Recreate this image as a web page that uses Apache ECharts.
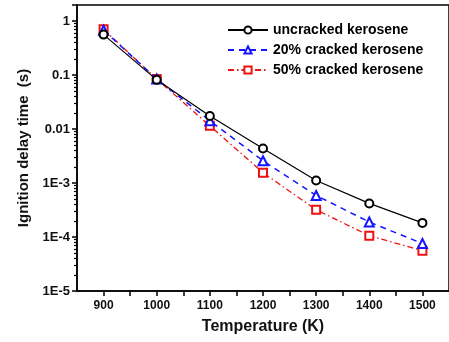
<!DOCTYPE html>
<html>
<head>
<meta charset="utf-8">
<script src="https://cdn.jsdelivr.net/npm/echarts@6/dist/echarts.min.js"></script>
<style>
  html, body { margin: 0; padding: 0; background: #fff; }
  #chart { width: 449px; height: 342px; }
</style>
</head>
<body>
<div id="chart"></div>
<script>
// data
var temps = [900, 1000, 1100, 1200, 1300, 1400, 1500];
var uncracked = [0.565, 0.082, 0.0175, 0.00437, 0.00112, 4.2e-4, 1.83e-4];
var cracked20 = [0.68, 0.085, 0.0143, 0.0026, 5.9e-4, 1.9e-4, 7.6e-5];
var cracked50 = [0.71, 0.085, 0.0115, 0.00156, 3.2e-4, 1.06e-4, 5.6e-5];

var xTicks = [900, 950, 1000, 1050, 1100, 1150, 1200, 1250, 1300, 1350, 1400, 1450, 1500];
var xTickLabels = [900, 1000, 1100, 1200, 1300, 1400, 1500];
var yTickLabels = ['1E-5', '1E-4', '1E-3', '0.01', '0.1', '1'];

function pair(vals) {
  return temps.map(function (t, i) { return [t, vals[i]]; });
}

var font = 'Liberation Sans, Arial, sans-serif';

var chart = echarts.init(document.getElementById('chart'));
chart.setOption({
  animation: false,
  backgroundColor: '#fff',
  grid: { left: 77, right: -3, top: 5, bottom: 51, show: true, borderColor: '#000', borderWidth: 1.5 },
  legend: {
    orient: 'vertical',
    left: 222,
    top: 18,
    itemWidth: 40,
    itemHeight: 9,
    itemGap: 6,
    textStyle: { fontFamily: font, fontWeight: 'bold', fontSize: 14, lineHeight: 14, color: '#000' },
    data: ['uncracked kerosene', '20% cracked kerosene', '50% cracked kerosene']
  },
  xAxis: {
    type: 'value',
    min: 850,
    max: 1550,
    name: 'Temperature (K)',
    nameLocation: 'middle',
    nameGap: 28,
    nameTextStyle: { fontFamily: font, fontWeight: 'bold', fontSize: 16, color: '#111' },
    axisLine: { lineStyle: { color: '#000', width: 1.5 } },
    axisTick: { customValues: xTicks, length: 5, lineStyle: { color: '#000', width: 1.5 } },
    axisLabel: {
      customValues: xTickLabels, margin: 9,
      fontFamily: font, fontWeight: 'bold', fontSize: 12, color: '#111',
      formatter: function (v) { return String(v); }
    },
    splitLine: { show: false }
  },
  yAxis: {
    type: 'log',
    logBase: 10,
    min: 1e-5,
    max: 2,
    name: 'Ignition delay time  (s)',
    nameLocation: 'middle',
    nameGap: 46,
    nameTextStyle: { fontFamily: font, fontWeight: 'bold', fontSize: 15, color: '#111' },
    axisLine: { show: true, lineStyle: { color: '#000', width: 1.5 } },
    axisTick: { show: true, length: 5, lineStyle: { color: '#000', width: 1.5 } },
    minorTick: { show: true, splitNumber: 9, length: 3, lineStyle: { color: '#000', width: 1.2 } },
    axisLabel: {
      margin: 7,
      fontFamily: font, fontWeight: 'bold', fontSize: 13, color: '#111',
      formatter: function (v) {
        var lg = Math.log10(v);
        if (Math.abs(lg - Math.round(lg)) > 1e-6) return '';
        return yTickLabels[Math.round(lg) + 5] || '';
      }
    },
    splitLine: { show: false }
  },
  series: [{
    name: 'uncracked kerosene',
    type: 'line',
    data: pair(uncracked),
    symbol: 'emptyCircle',
    symbolSize: 8,
    color: '#000',
    itemStyle: { borderWidth: 1.3 },
    lineStyle: { color: '#000', width: 1.2, type: 'solid' },
    z: 4
  }, {
    name: '20% cracked kerosene',
    type: 'line',
    data: pair(cracked20),
    symbol: 'emptyTriangle',
    symbolSize: 9,
    color: '#1515ff',
    itemStyle: { borderWidth: 1.3 },
    lineStyle: { color: '#1515ff', width: 1.5, type: [6, 5] },
    z: 3
  }, {
    name: '50% cracked kerosene',
    type: 'line',
    data: pair(cracked50),
    symbol: 'emptyRect',
    symbolSize: 8,
    color: '#ee1111',
    itemStyle: { borderWidth: 1.3 },
    lineStyle: { color: '#ee1111', width: 1.3, type: [6, 3, 1.5, 3] },
    z: 2
  }]
});
</script>
</body>
</html>
